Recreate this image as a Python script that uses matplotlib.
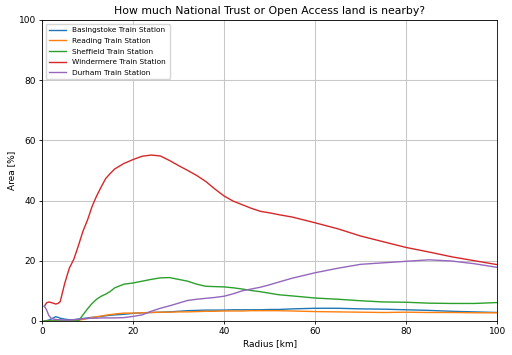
import matplotlib
matplotlib.use("Agg")
import matplotlib.pyplot as plt

# radius in km, shared by all stations
radius = [0.5, 1, 1.5, 2, 2.5, 3, 3.5, 4, 5, 6, 7, 8, 9, 10, 11, 12, 13, 14, 15, 16,
          18, 20, 22, 24, 26, 28, 30, 32, 34, 36, 38, 40, 42, 44, 46, 48, 50, 52, 55,
          60, 65, 70, 75, 80, 85, 90, 95, 100]

basingstoke = [0, 0.1, 0.3, 0.6, 1.0, 1.4, 1.2, 0.9, 0.6, 0.4, 0.4, 0.6, 0.8, 1.0, 1.2, 1.3,
               1.5, 1.7, 1.9, 2.0, 2.2, 2.5, 2.7, 2.8, 2.9, 3.0, 3.2, 3.4, 3.5, 3.6, 3.6, 3.6,
               3.7, 3.7, 3.7, 3.7, 3.8, 3.8, 4.0, 4.2, 4.2, 4.0, 3.9, 3.7, 3.5, 3.2, 3.0, 2.8]
reading = [0, 0, 0, 0, 0, 0, 0, 0, 0, 0, 0, 0.2, 0.5, 0.8, 1.1, 1.4,
           1.6, 1.9, 2.1, 2.3, 2.6, 2.6, 2.7, 2.8, 2.9, 2.9, 3.0, 3.0, 3.1, 3.2, 3.2, 3.3,
           3.3, 3.3, 3.4, 3.4, 3.4, 3.4, 3.3, 3.1, 3.0, 2.9, 2.8, 2.9, 2.8, 2.8, 2.7, 2.7]
sheffield = [0, 0, 0, 0, 0, 0, 0, 0, 0, 0, 0, 0, 2.0, 4.0, 5.8, 7.2,
             8.2, 8.9, 9.8, 11.0, 12.2, 12.6, 13.2, 13.8, 14.3, 14.4, 13.8, 13.2, 12.2, 11.5, 11.4, 11.3,
             11.0, 10.6, 10.1, 9.7, 9.2, 8.7, 8.3, 7.6, 7.2, 6.7, 6.3, 6.2, 5.9, 5.8, 5.8, 6.1]
windermere = [4.8, 6.0, 6.3, 6.1, 5.9, 5.6, 5.8, 6.4, 12.5, 17.5, 20.5, 25.0, 29.8, 33.5, 38.0, 41.5,
              44.5, 47.3, 49.0, 50.5, 52.3, 53.6, 54.7, 55.1, 54.8, 53.3, 51.6, 50.0, 48.3, 46.3, 43.8, 41.5,
              39.8, 38.6, 37.4, 36.4, 35.9, 35.3, 34.5, 32.6, 30.6, 28.2, 26.3, 24.4, 22.9, 21.3, 20.0, 18.7]
durham = [5.0, 3.7, 1.8, 0.9, 0.6, 0.5, 0.4, 0.4, 0.3, 0.3, 0.4, 0.6, 0.7, 0.8, 0.9, 0.9,
          1.0, 1.0, 1.0, 1.0, 1.1, 1.5, 2.0, 3.2, 4.2, 5.0, 5.9, 6.8, 7.2, 7.5, 7.8, 8.2,
          9.0, 10.0, 10.6, 11.2, 12.0, 12.9, 14.2, 16.0, 17.5, 18.8, 19.3, 19.8, 20.3, 19.9, 19.0, 17.8]

series = [
    ("Basingstoke Train Station", basingstoke, "#1f77b4"),
    ("Reading Train Station", reading, "#ff7f0e"),
    ("Sheffield Train Station", sheffield, "#2ca02c"),
    ("Windermere Train Station", windermere, "#d62728"),
    ("Durham Train Station", durham, "#9467bd"),
]

fig = plt.figure(figsize=(5.12, 3.55), dpi=100)
ax = fig.add_axes([0.082, 0.096, 0.889, 0.848])
for label, vals, color in series:
    ax.plot(radius, vals, color=color, lw=1.0, label=label)

ax.set_xlim(0, 100)
ax.set_ylim(0, 100)
ax.grid(True, color="#c8c8c8", lw=0.75)
ax.set_xlabel("Radius [km]", fontsize=6.5, labelpad=2)
ax.set_ylabel("Area [%]", fontsize=6.5, labelpad=2)
ax.set_title("How much National Trust or Open Access land is nearby?", fontsize=7.8, pad=4)
ax.tick_params(labelsize=6.5, length=2.5, pad=2, width=0.6)
for s in ax.spines.values():
    s.set_linewidth(0.6)
ax.legend(loc="upper left", fontsize=5.3, handlelength=2.3, borderpad=0.5, labelspacing=0.6)

fig.savefig("out.png", dpi=100)
